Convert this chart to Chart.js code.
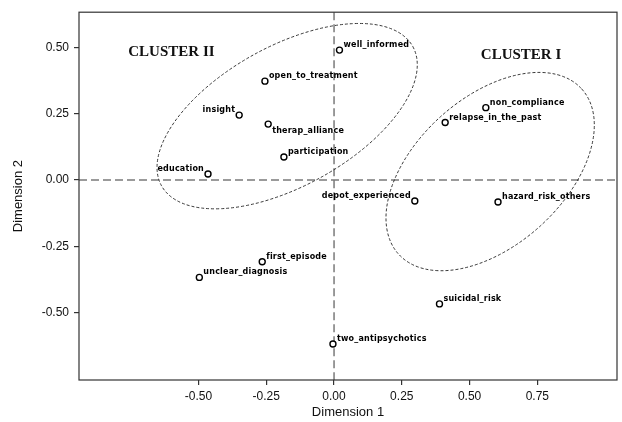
<!DOCTYPE html>
<html>
<head>
<meta charset="utf-8">
<script src="https://cdn.jsdelivr.net/npm/chart.js@4/dist/chart.umd.min.js"></script>
<style>
  html, body { margin: 0; padding: 0; background: #fff; }
  #wrap { width: 622px; height: 422px; }
</style>
</head>
<body>
<div id="wrap"><canvas id="mdsChart" width="622" height="422"></canvas></div>
<script>
// variables and their coordinates on the two dimensions
const names = [
  "well_informed", "open_to_treatment", "insight", "therap_alliance",
  "participation", "education", "non_compliance", "relapse_in_the_past",
  "depot_experienced", "hazard_risk_others", "first_episode",
  "unclear_diagnosis", "suicidal_risk", "two_antipsychotics"
];
const dim1 = [0.02, -0.255, -0.35, -0.243, -0.185, -0.465, 0.56, 0.41, 0.298, 0.605, -0.265, -0.497, 0.389, -0.004];
const dim2 = [0.49, 0.373, 0.245, 0.211, 0.087, 0.023, 0.273, 0.217, -0.079, -0.083, -0.308, -0.367, -0.467, -0.618];

const xTicks = [-0.5, -0.25, 0, 0.25, 0.5, 0.75];
const yTicks = [-0.5, -0.25, 0, 0.25, 0.5];

const clusterNames = ["CLUSTER II", "CLUSTER I"];
const clusterX = [-0.6, 0.69];
const clusterY = [0.482, 0.471];

// where each label sits next to its point
const labelSide = {
  insight: "nw",
  education: "nw",
  depot_experienced: "nw",
  therap_alliance: "se"
};

// cluster ellipses: centre in data units, semi axes in dimension-1 units, tilt in degrees
const ellipses = [
  { cx: -0.173, cy: 0.241, a: 0.53, b: 0.258, tilt: 29 },
  { cx: 0.576, cy: 0.032, a: 0.455, b: 0.273, tilt: 42 }
];

const points = names.map((name, i) => ({ x: dim1[i], y: dim2[i], name }));

const overlay = {
  id: "overlay",
  beforeDatasetsDraw(chart) {
    const { ctx, chartArea: area, scales: { x, y } } = chart;
    ctx.save();

    // dashed reference lines through the origin
    ctx.strokeStyle = "#7a7a7a";
    ctx.lineWidth = 1.5;
    ctx.setLineDash([8, 4]);
    const x0 = x.getPixelForValue(0);
    const y0 = y.getPixelForValue(0);
    ctx.beginPath();
    ctx.moveTo(area.left, y0);
    ctx.lineTo(area.right, y0);
    ctx.moveTo(x0, area.top);
    ctx.lineTo(x0, area.bottom);
    ctx.stroke();

    // ellipses
    const pxPerUnit = x.getPixelForValue(1) - x.getPixelForValue(0);
    ctx.strokeStyle = "#222";
    ctx.lineWidth = 0.9;
    ctx.setLineDash([3, 2]);
    ellipses.forEach(e => {
      ctx.beginPath();
      ctx.ellipse(x.getPixelForValue(e.cx), y.getPixelForValue(e.cy),
        e.a * pxPerUnit, e.b * pxPerUnit, -e.tilt * Math.PI / 180, 0, Math.PI * 2);
      ctx.stroke();
    });

    // cluster headings
    ctx.setLineDash([]);
    ctx.fillStyle = "#111";
    ctx.font = 'bold 15px "Liberation Serif"';
    ctx.textAlign = "center";
    ctx.textBaseline = "middle";
    clusterNames.forEach((txt, i) => {
      ctx.fillText(txt, x.getPixelForValue(clusterX[i]), y.getPixelForValue(clusterY[i]));
    });
    ctx.restore();
  },
  afterDatasetsDraw(chart) {
    const { ctx, chartArea: area } = chart;
    ctx.save();
    // frame round the plot
    ctx.strokeStyle = "#333";
    ctx.lineWidth = 1.2;
    ctx.strokeRect(area.left, area.top, area.right - area.left, area.bottom - area.top);

    // point labels
    ctx.fillStyle = "#000";
    ctx.font = 'bold 8px "DejaVu Sans"';
    ctx.letterSpacing = "0.2px";
    ctx.textBaseline = "middle";
    chart.getDatasetMeta(0).data.forEach((el, i) => {
      const side = labelSide[names[i]] || "ne";
      let tx = el.x + 4;
      let ty = el.y - 5;
      ctx.textAlign = "left";
      if (side === "nw") {
        tx = el.x - 4;
        ctx.textAlign = "right";
      }
      if (side === "se") {
        ty = el.y + 7;
      }
      ctx.fillText(names[i], tx, ty);
    });
    ctx.restore();
  }
};

const tickFont = { family: '"Liberation Sans"', size: 12 };

new Chart(document.getElementById("mdsChart"), {
  type: "scatter",
  data: {
    datasets: [{
      data: points,
      pointRadius: 3,
      pointHoverRadius: 3,
      pointBorderWidth: 1.4,
      pointBorderColor: "#000",
      pointBackgroundColor: "#fff"
    }]
  },
  options: {
    responsive: false,
    animation: false,
    layout: { padding: { top: 12, right: 5, left: 0, bottom: 0 } },
    plugins: {
      legend: { display: false },
      tooltip: { enabled: false }
    },
    scales: {
      x: {
        type: "linear",
        min: -0.941,
        max: 1.044,
        afterBuildTicks: scale => { scale.ticks = xTicks.map(v => ({ value: v })); },
        afterFit: scale => { scale.height = 42; },
        ticks: {
          color: "#111",
          font: tickFont,
          padding: 4,
          callback: v => Number(v).toFixed(2)
        },
        grid: { drawOnChartArea: false, drawTicks: true, tickLength: 5, color: "#333", lineWidth: 1.2 },
        border: { display: false },
        title: {
          display: true,
          text: "Dimension 1",
          color: "#111",
          font: { family: '"Liberation Sans"', size: 13 },
          padding: { top: 0, bottom: 2 }
        }
      },
      y: {
        type: "linear",
        min: -0.754,
        max: 0.633,
        afterBuildTicks: scale => { scale.ticks = yTicks.map(v => ({ value: v })); },
        afterFit: scale => { scale.width = 79; },
        ticks: {
          color: "#111",
          font: tickFont,
          padding: 5,
          callback: v => Number(v).toFixed(2)
        },
        grid: { drawOnChartArea: false, drawTicks: true, tickLength: 5, color: "#333", lineWidth: 1.2 },
        border: { display: false },
        title: {
          display: true,
          text: "Dimension 2",
          color: "#111",
          font: { family: '"Liberation Sans"', size: 13 },
          padding: { top: 11, bottom: 0 }
        }
      }
    }
  },
  plugins: [overlay]
});
</script>
</body>
</html>
